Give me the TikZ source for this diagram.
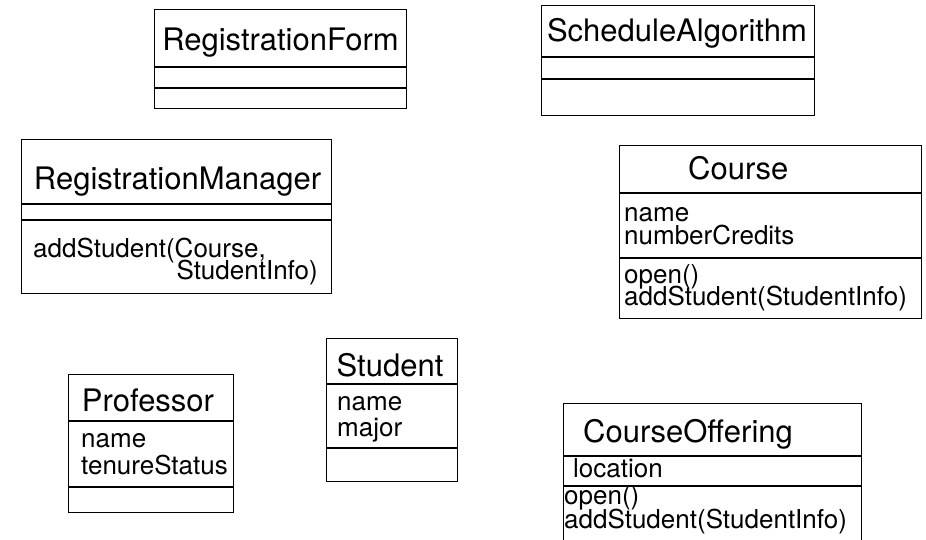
\documentclass[tikz,border=0pt]{standalone}
\usepackage{fontspec}
\setmainfont{TeX Gyre Heros}
\usepackage{tikz}
\usetikzlibrary{positioning}

\begin{document}
\begin{tikzpicture}[x=1pt, y=-1pt,
  compart/.style={draw, rectangle, line width=1pt, inner sep=0pt},
  classname/.style={font=\fontsize{31}{31}\selectfont, anchor=base, inner sep=0pt},
  member/.style={font=\fontsize{26}{26}\selectfont, anchor=base west, inner sep=0pt}
  ]
  \clip (0,0) rectangle (926,540);

  % RegistrationForm
  \node[compart, anchor=north west, minimum width=252, minimum height=57] (formName) at (154,9) {};
  \node[compart, below=0pt of formName, minimum width=252, minimum height=20] (formAttr) {};
  \node[compart, below=0pt of formAttr, minimum width=252, minimum height=20] (formOps) {};
  \node[classname] (formTitle) at ([yshift=16pt]formName.south) {RegistrationForm};

  % ScheduleAlgorithm
  \node[compart, anchor=north west, minimum width=273, minimum height=51] (schedName) at (541,5) {};
  \node[compart, below=0pt of schedName, minimum width=273, minimum height=21] (schedAttr) {};
  \node[compart, below=0pt of schedAttr, minimum width=273, minimum height=36] (schedOps) {};
  \node[classname] (schedTitle) at ([xshift=-1pt,yshift=15pt]schedName.south) {ScheduleAlgorithm};

  % RegistrationManager
  \node[compart, anchor=north west, minimum width=310, minimum height=64] (managerName) at (21,139) {};
  \node[compart, below=0pt of managerName, minimum width=310, minimum height=15] (managerAttr) {};
  \node[compart, below=0pt of managerAttr, minimum width=310, minimum height=73] (managerOps) {};
  \node[classname] (managerTitle) at ([xshift=1pt,yshift=14pt]managerName.south) {RegistrationManager};
  \node[member] (managerOp1) at (33,257) {addStudent(Course,};
  \node[member, anchor=base east] (managerOp2) at (318,279) {StudentInfo)};

  % Course
  \node[compart, anchor=north west, minimum width=302, minimum height=47] (courseName) at (619,145) {};
  \node[compart, below=0pt of courseName, minimum width=302, minimum height=64] (courseAttr) {};
  \node[compart, below=0pt of courseAttr, minimum width=302, minimum height=60] (courseOps) {};
  \node[classname, anchor=base west] (courseTitle) at (688,180) {Course};
  \node[member] (courseAttr1) at (624,222) {name};
  \node[member] (courseAttr2) at (624,244) {numberCredits};
  \node[member] (courseOp1) at (624,283) {open()};
  \node[member] (courseOp2) at (624,305) {addStudent(StudentInfo)};

  % Professor
  \node[compart, anchor=north west, minimum width=165, minimum height=46] (profName) at (68,374) {};
  \node[compart, below=0pt of profName, minimum width=165, minimum height=65] (profAttr) {};
  \node[compart, below=0pt of profAttr, minimum width=165, minimum height=25] (profOps) {};
  \node[classname] (profTitle) at ([xshift=-3pt,yshift=10pt]profName.south) {Professor};
  \node[member] (profAttr1) at (81,447) {name};
  \node[member] (profAttr2) at (81,474) {tenureStatus};

  % Student
  \node[compart, anchor=north west, minimum width=131, minimum height=45] (studentName) at (326,338) {};
  \node[compart, below=0pt of studentName, minimum width=131, minimum height=63] (studentAttr) {};
  \node[compart, below=0pt of studentAttr, minimum width=131, minimum height=33] (studentOps) {};
  \node[classname] (studentTitle) at ([xshift=-2pt,yshift=8pt]studentName.south) {Student};
  \node[member] (studentAttr1) at (337,410) {name};
  \node[member] (studentAttr2) at (337,436) {major};

  % CourseOffering
  \node[compart, anchor=north west, minimum width=298, minimum height=52] (offerName) at (563,403) {};
  \node[compart, below=0pt of offerName, minimum width=298, minimum height=29] (offerAttr) {};
  \node[compart, below=0pt of offerAttr, minimum width=298, minimum height=70] (offerOps) {};
  \node[classname, anchor=base west] (offerTitle) at (583,442) {CourseOffering};
  \node[member] (offerAttr1) at (573,477) {location};
  \node[member] (offerOp1) at (564,504) {open()};
  \node[member] (offerOp2) at (564,528) {addStudent(StudentInfo)};

\end{tikzpicture}
\end{document}
